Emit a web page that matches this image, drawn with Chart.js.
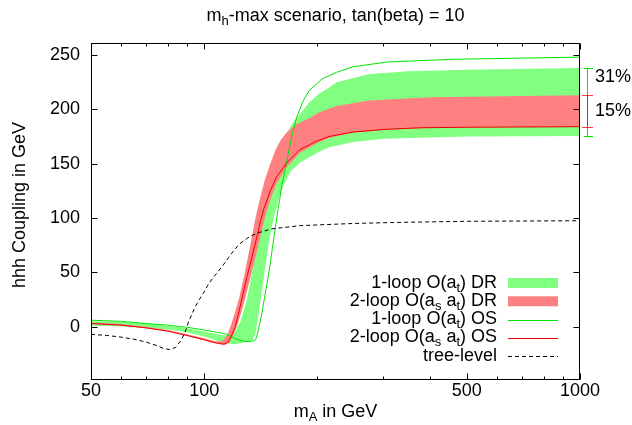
<!DOCTYPE html>
<html><head><meta charset="utf-8">
<script src="https://cdn.jsdelivr.net/npm/chart.js@4.4.1/dist/chart.umd.min.js"></script>
<style>html,body{margin:0;padding:0;background:#fff}#wrap{width:632px;height:425px}</style>
</head><body><div id="wrap"><canvas id="c" width="632" height="425"></canvas></div>
<script>
// ---- data (mA in GeV, coupling in GeV) ----
const xTickValues = [50, 100, 500, 1000];
const xMinorTicks = [60, 70, 80, 90, 200, 300, 400, 600, 700, 800, 900];
const yTickValues = [0, 50, 100, 150, 200, 250];

const treeLevel = [[50,-7],[55,-8],[60,-9.5],[65,-11.5],[70,-14],[75,-17.5],[78,-20],[81,-21],[84,-19],[87,-12],[89,-5],[91,5],[94,16],[97,25],[100,32],[103,40],[107,47.5],[112,56],[118,67],[124,76],[131,82],[138,86],[151,90],[180,93],[250,95],[330,96],[500,97],[1000,97.5]];

const oneLoopOS = [[50,6],[60,5],[70,3],[80,1.5],[90,-0.5],[100,-3],[108,-5],[114,-6.5],[118,-9],[122,-11.5],[128,-13.5],[134,-13.5],[137,-12],[139,-5],[142,10],[145,28],[149,52],[153,80],[157,106],[161,130],[166,153],[171,175],[176,192],[183,207],[190,217],[206,228],[225,234],[248,239],[306,243.5],[457,246],[1000,248]];

const twoLoopOS = [[50,3],[60,1.5],[70,-1],[80,-4],[90,-8],[100,-12],[106,-14.5],[110,-15.5],[113,-16],[116,-14],[118,-9],[121,0],[124,15],[127,31],[130,46],[134,64],[138,82],[141,96],[144,108],[150,125],[156,138],[166,151],[180,163],[200,171],[215,175],[248,179],[300,181.5],[375,183],[500,183.5],[1000,184]];

const oneLoopDRUpper = [[50,5],[60,4.5],[70,3],[80,1],[90,-1.5],[100,-4.5],[108,-7],[114,-8],[120,-6],[125,5],[130,25],[135,55],[140,85],[145,110],[150,130],[155,146],[160,160],[166,178],[171,186],[180,196],[190,206],[202,214],[215,220],[225,225],[275,232.5],[350,235],[500,236.5],[1000,238]];
const oneLoopDRLower = [[50,1],[60,0.5],[70,-1],[80,-2.5],[90,-5],[100,-9],[110,-13.5],[115,-15.5],[120,-16],[126,-15],[132,-13.5],[135,-12],[137,-6],[139,8],[142,30],[145,52],[149,80],[153,100],[158,118],[163,131],[170,143],[180,151],[200,160],[215,165],[250,170],[300,173],[500,175],[1000,175.5]];

const twoLoopDRUpper = [[50,4],[60,2.5],[70,0],[80,-3],[90,-7],[100,-10.5],[108,-13.5],[112,-13],[115,-8],[118,2],[121,14],[124,27],[128,48],[132,71],[136,95],[139,110],[145,135],[150,150],[155,163],[160,172],[166,179],[175,186],[190,191.5],[202,197],[225,203],[275,208],[400,211],[1000,213]];
const twoLoopDRLower = [[50,2.5],[60,1],[70,-1.5],[80,-4.5],[90,-8.5],[100,-12.5],[110,-16],[114,-16.5],[117,-14],[120,-7],[123,3],[126,15],[129,28],[133,46],[137,64],[141,82],[145,100],[150,117],[156,132],[166,147],[180,160],[200,169],[215,173.5],[248,178.5],[300,181],[375,182.5],[500,183.5],[1000,184]];

const bandPercentLabels = ['31%', '15%'];
const titleText = [['m',0],['h',1],['-max scenario, tan(beta) = 10',0]];
const xTitleText = [['m',0],['A',1],[' in GeV',0]];
const yTitleText = 'hhh Coupling in GeV';
const legendLabels = [
  [['1-loop O(a',0],['t',1],[') DR',0]],
  [['2-loop O(a',0],['s',1],[' a',0],['t',1],[') DR',0]],
  [['1-loop O(a',0],['t',1],[') OS',0]],
  [['2-loop O(a',0],['s',1],[' a',0],['t',1],[') OS',0]],
  [['tree-level',0]]
];

// ---- styling ----
const FAM = '"Liberation Sans", Arial, Helvetica, sans-serif';
const FS = 18, SFS = 13;
const GREEN_FILL = '#80ff80', RED_FILL = '#ff8080', GREEN = '#00e600', RED = '#ee0000';

const pts = arr => arr.map(p => ({x: p[0], y: p[1]}));
const poly = (up, lo) => pts(up).concat(pts(lo).reverse());

function drawRich(ctx, parts, x, y, align) {
  let w = 0;
  for (const p of parts) { ctx.font = (p[1] ? SFS : FS) + 'px ' + FAM; w += ctx.measureText(p[0]).width; }
  let cx = align === 'right' ? x - w : (align === 'center' ? x - w / 2 : x);
  ctx.textAlign = 'left'; ctx.textBaseline = 'alphabetic';
  for (const p of parts) {
    ctx.font = (p[1] ? SFS : FS) + 'px ' + FAM;
    ctx.fillText(p[0], cx, y + (p[1] ? 4 : 0));
    cx += ctx.measureText(p[0]).width;
  }
}

const deco = {
  id: 'deco',
  afterDraw(chart) {
    const {ctx, chartArea: a, scales: {x, y}} = chart;
    ctx.save();
    ctx.fillStyle = '#000';
    drawRich(ctx, titleText, (a.left + a.right) / 2, 21, 'center');
    drawRich(ctx, xTitleText, (a.left + a.right) / 2, 417, 'center');
    ctx.save();
    ctx.translate(25, 205); ctx.rotate(-Math.PI / 2);
    ctx.font = FS + 'px ' + FAM; ctx.textAlign = 'center'; ctx.textBaseline = 'alphabetic';
    ctx.fillText(yTitleText, 0, 0);
    ctx.restore();

    const L = a.left + 0.5, R = a.right - 0.5, T = a.top + 0.5, B = a.bottom - 0.5;
    ctx.strokeStyle = '#000'; ctx.lineWidth = 1;
    ctx.beginPath();
    for (const v of yTickValues) {
      const py = Math.round(y.getPixelForValue(v)) + 0.5;
      ctx.moveTo(L, py); ctx.lineTo(L + 6, py);
      ctx.moveTo(R, py); ctx.lineTo(R - 6, py);
    }
    for (const v of xTickValues) {
      const px = Math.round(x.getPixelForValue(v)) + 0.5;
      ctx.moveTo(px, B); ctx.lineTo(px, B - 6);
      ctx.moveTo(px, T); ctx.lineTo(px, T + 6);
    }
    for (const v of xMinorTicks) {
      const px = Math.round(x.getPixelForValue(v)) + 0.5;
      ctx.moveTo(px, B); ctx.lineTo(px, B - 3);
      ctx.moveTo(px, T); ctx.lineTo(px, T + 3);
    }
    ctx.stroke();
    ctx.strokeRect(L, T, R - L, B - T);

    const tx = 497, sx0 = 508, sx1 = 558;
    const base = [287.5, 305.8, 324.1, 342.4, 360.8];
    legendLabels.forEach((lab, i) => {
      ctx.fillStyle = '#000';
      drawRich(ctx, lab, tx, base[i], 'right');
      const cy = base[i] - 4.5;
      if (i === 0 || i === 1) {
        ctx.fillStyle = i === 0 ? GREEN_FILL : RED_FILL;
        ctx.fillRect(sx0, cy - 5, sx1 - sx0, 10);
      } else {
        ctx.beginPath();
        ctx.strokeStyle = i === 2 ? GREEN : (i === 3 ? RED : '#000');
        ctx.setLineDash(i === 4 ? [4, 3] : []);
        ctx.moveTo(sx0, Math.round(cy) + 0.5); ctx.lineTo(sx1, Math.round(cy) + 0.5);
        ctx.stroke();
        ctx.setLineDash([]);
      }
    });

    const last = arr => arr[arr.length - 1][1];
    const gTop = y.getPixelForValue(last(oneLoopDRUpper)), gBot = y.getPixelForValue(last(oneLoopDRLower));
    const rTop = y.getPixelForValue(last(twoLoopDRUpper)), rBot = y.getPixelForValue(last(twoLoopDRLower));
    const vx = 587.5;
    const bar = (t, b, c, x0, x1, alpha) => {
      ctx.globalAlpha = alpha; ctx.strokeStyle = c; ctx.beginPath();
      ctx.moveTo(vx, t); ctx.lineTo(vx, b);
      ctx.moveTo(x0, Math.round(t) + 0.5); ctx.lineTo(x1, Math.round(t) + 0.5);
      ctx.moveTo(x0, Math.round(b) + 0.5); ctx.lineTo(x1, Math.round(b) + 0.5);
      ctx.stroke(); ctx.globalAlpha = 1;
    };
    bar(gTop, gBot, GREEN, 584, 593, 1);
    bar(rTop, rBot, RED, 582, 593, 0.75);
    ctx.fillStyle = '#000'; ctx.font = FS + 'px ' + FAM; ctx.textAlign = 'left'; ctx.textBaseline = 'alphabetic';
    ctx.fillText(bandPercentLabels[0], 595, 82);
    ctx.fillText(bandPercentLabels[1], 595, 116);
    ctx.restore();
  }
};

const lineDS = (data, color, order, dash) => ({
  data: pts(data), borderColor: color, borderWidth: 1, borderDash: dash || [], pointRadius: 0,
  fill: false, tension: 0, order
});
const bandDS = (up, lo, color, order) => ({
  data: poly(up, lo), borderColor: 'rgba(0,0,0,0)', borderWidth: 0, backgroundColor: color,
  pointRadius: 0, fill: 'shape', tension: 0, order
});

new Chart(document.getElementById('c'), {
  type: 'line',
  data: {
    datasets: [
      lineDS(treeLevel, '#000', 0, [4, 3]),
      lineDS(twoLoopOS, RED, 1),
      lineDS(oneLoopOS, GREEN, 2),
      bandDS(twoLoopDRUpper, twoLoopDRLower, RED_FILL, 3),
      bandDS(oneLoopDRUpper, oneLoopDRLower, GREEN_FILL, 4)
    ]
  },
  options: {
    responsive: false, animation: false, events: [], devicePixelRatio: 1,
    layout: {padding: {left: 0, right: 52, top: 43, bottom: 0}},
    plugins: {legend: {display: false}, title: {display: false}, tooltip: {enabled: false}},
    scales: {
      x: {
        type: 'logarithmic', min: 50, max: 1000,
        grid: {display: false, drawTicks: false}, border: {display: false},
        afterBuildTicks: s => { s.ticks = xTickValues.map(v => ({value: v, major: true})); },
        afterFit: s => { s.height = 45; },
        ticks: {color: '#000', font: {family: FAM, size: FS}, padding: 0, maxRotation: 0, autoSkip: false,
          callback: v => String(v)}
      },
      y: {
        type: 'linear', min: -49, max: 261,
        grid: {display: false, drawTicks: false}, border: {display: false},
        afterBuildTicks: s => { s.ticks = yTickValues.map(v => ({value: v})); },
        afterFit: s => { s.width = 91; },
        ticks: {color: '#000', font: {family: FAM, size: FS}, padding: 11, callback: v => String(v)}
      }
    }
  },
  plugins: [deco]
});
</script></body></html>
